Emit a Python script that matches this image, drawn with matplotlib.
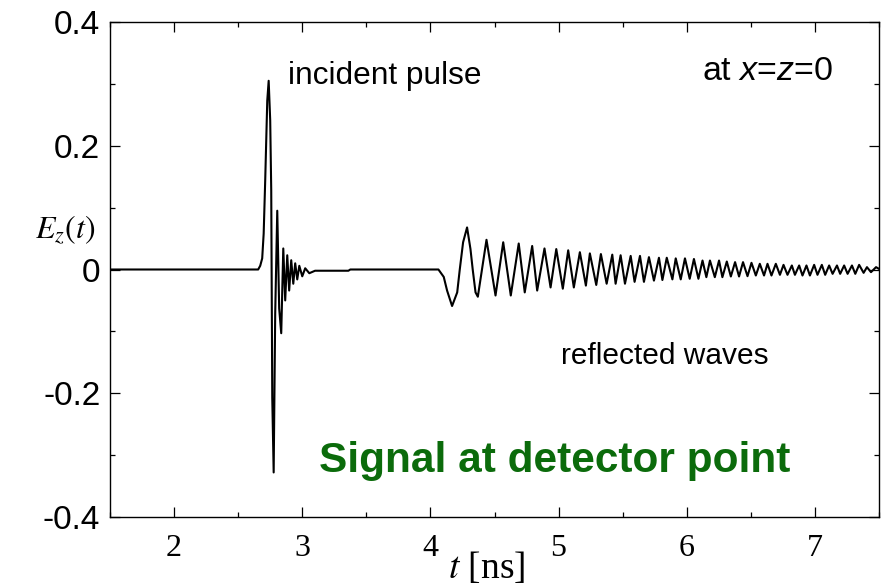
import numpy as np
import matplotlib
matplotlib.use("Agg")
import matplotlib.pyplot as plt
from matplotlib.ticker import MultipleLocator, FuncFormatter

# incident pulse (t in ns, E_z)
t_inc = [1.5, 2.656, 2.672, 2.6875, 2.699, 2.711, 2.727, 2.738, 2.75, 2.758,
         2.766, 2.777, 2.789, 2.805, 2.820, 2.836, 2.852, 2.867, 2.883, 2.898,
         2.914, 2.930, 2.945, 2.961, 2.977, 3.0, 3.023, 3.055, 3.1, 3.36, 3.375]
e_inc = [0.0, 0.0, 0.006, 0.018, 0.058, 0.144, 0.273, 0.305, 0.241, 0.128,
         -0.207, -0.328, -0.071, 0.095, -0.063, -0.103, 0.034, -0.050, 0.023, -0.034,
         0.015, -0.023, 0.010, -0.016, 0.006, -0.011, 0.002, -0.006, -0.002, -0.002, 0.0]

# reflected waves: onset shape, then extrema
t_ref = [4.0625, 4.104, 4.130, 4.169, 4.209, 4.229, 4.255, 4.286, 4.3125, 4.330,
         4.352, 4.370, 4.4375, 4.508, 4.568, 4.627, 4.689, 4.736, 4.794, 4.833,
         4.890, 4.9375, 4.982, 5.033, 5.075, 5.119, 5.166, 5.213, 5.244, 5.294,
         5.330, 5.375, 5.419, 5.445, 5.484, 5.518, 5.5625, 5.593, 5.635, 5.666,
         5.705, 5.744, 5.783, 5.810, 5.844, 5.888, 5.914, 5.953, 5.986, 6.023,
         6.056, 6.091, 6.123, 6.153, 6.181, 6.219, 6.252, 6.278, 6.3125, 6.344,
         6.377, 6.408, 6.439, 6.474, 6.505, 6.539, 6.570, 6.603, 6.630, 6.661,
         6.695, 6.727, 6.755, 6.786, 6.820, 6.844, 6.877, 6.903, 6.934, 6.961,
         6.994, 7.020, 7.054, 7.080, 7.111, 7.138, 7.172, 7.197, 7.228, 7.255,
         7.289, 7.315, 7.345, 7.380, 7.406, 7.4375, 7.477, 7.5]
e_ref = [0.0, -0.012, -0.034, -0.059, -0.037, 0.0, 0.044, 0.068, 0.033, 0.0,
         -0.037, -0.044, 0.048, -0.042, 0.044, -0.042, 0.042, -0.037, 0.038, -0.034,
         0.034, -0.029, 0.033, -0.031, 0.031, -0.029, 0.028, -0.026, 0.026, -0.025,
         0.025, -0.023, 0.024, -0.023, 0.023, -0.023, 0.022, -0.020, 0.022, -0.020,
         0.020, -0.018, 0.019, -0.017, 0.019, -0.016, 0.018, -0.016, 0.018, -0.015,
         0.017, -0.015, 0.0145, -0.0124, 0.0145, -0.0124, 0.0145, -0.0124, 0.0129, -0.0113,
         0.0119, -0.0113, 0.0119, -0.0108, 0.0108, -0.0097, 0.0092, -0.0097, 0.0092, -0.0097,
         0.0092, -0.0086, 0.0075, -0.0086, 0.0065, -0.0086, 0.0065, -0.0097, 0.0065, -0.0097,
         0.0075, -0.0086, 0.0075, -0.0086, 0.0065, -0.007, 0.0065, -0.007, 0.0065, -0.007,
         0.0065, -0.007, 0.0075, -0.0054, 0.0038, -0.0043, 0.0038, 0.001]

t = np.array(t_inc + t_ref)
e = np.array(e_inc + e_ref)

plt.rcParams['mathtext.fontset'] = 'custom'
plt.rcParams['mathtext.rm'] = 'Liberation Sans'
plt.rcParams['mathtext.it'] = 'Liberation Sans:italic'

fig = plt.figure(figsize=(8.88, 5.86), dpi=100)
ax = fig.add_axes([110 / 888, 1 - 517 / 586, 769 / 888, 495 / 586])

ax.plot(t, e, color='black', lw=1.5)
ax.set_xlim(1.5, 7.5)
ax.set_ylim(-0.4, 0.4)

ax.xaxis.set_major_locator(MultipleLocator(1))
ax.xaxis.set_minor_locator(MultipleLocator(0.5))
ax.yaxis.set_major_locator(MultipleLocator(0.2))
ax.yaxis.set_minor_locator(MultipleLocator(0.1))
ax.yaxis.set_major_formatter(FuncFormatter(lambda v, p: '0' if abs(v) < 1e-9 else '%.1f' % v))

ax.tick_params(which='both', direction='in', top=True, right=True, width=0.9)
ax.tick_params(which='major', length=7)
ax.tick_params(which='minor', length=3.5)
ax.tick_params(axis='y', labelsize=24, pad=7)
ax.tick_params(axis='x', labelsize=23, pad=12)
for lab in ax.get_yticklabels():
    lab.set_family('Liberation Sans')
for lab in ax.get_xticklabels():
    lab.set_family('Liberation Serif')
for s in ax.spines.values():
    s.set_linewidth(1.0)

ax.set_xlabel(r'$t$ [ns]', family='Liberation Serif', fontsize=27,
              math_fontfamily='stix', labelpad=-9)
ax.xaxis.label.set_x(0.49)
fig.text(65 / 888, 1 - 230 / 586, r'$E_z(t)$', fontsize=23, math_fontfamily='stix',
         ha='center', va='center')

ax.text(2.89, 0.313, 'incident pulse', family='Liberation Sans', fontsize=22.8,
        ha='left', va='center')
ax.text(5.02, -0.139, 'reflected waves', family='Liberation Sans', fontsize=21.5,
        ha='left', va='center')
ax.text(7.14, 0.32, 'at $x$=$z$=0', family='Liberation Sans', fontsize=24.5,
        ha='right', va='center', math_fontfamily='custom')
ax.text(4.97, -0.309, 'Signal at detector point', family='Liberation Sans',
        fontsize=30.5, fontweight='bold', color='#0b6b0b', ha='center', va='center')

fig.savefig('out.png', dpi=100)
